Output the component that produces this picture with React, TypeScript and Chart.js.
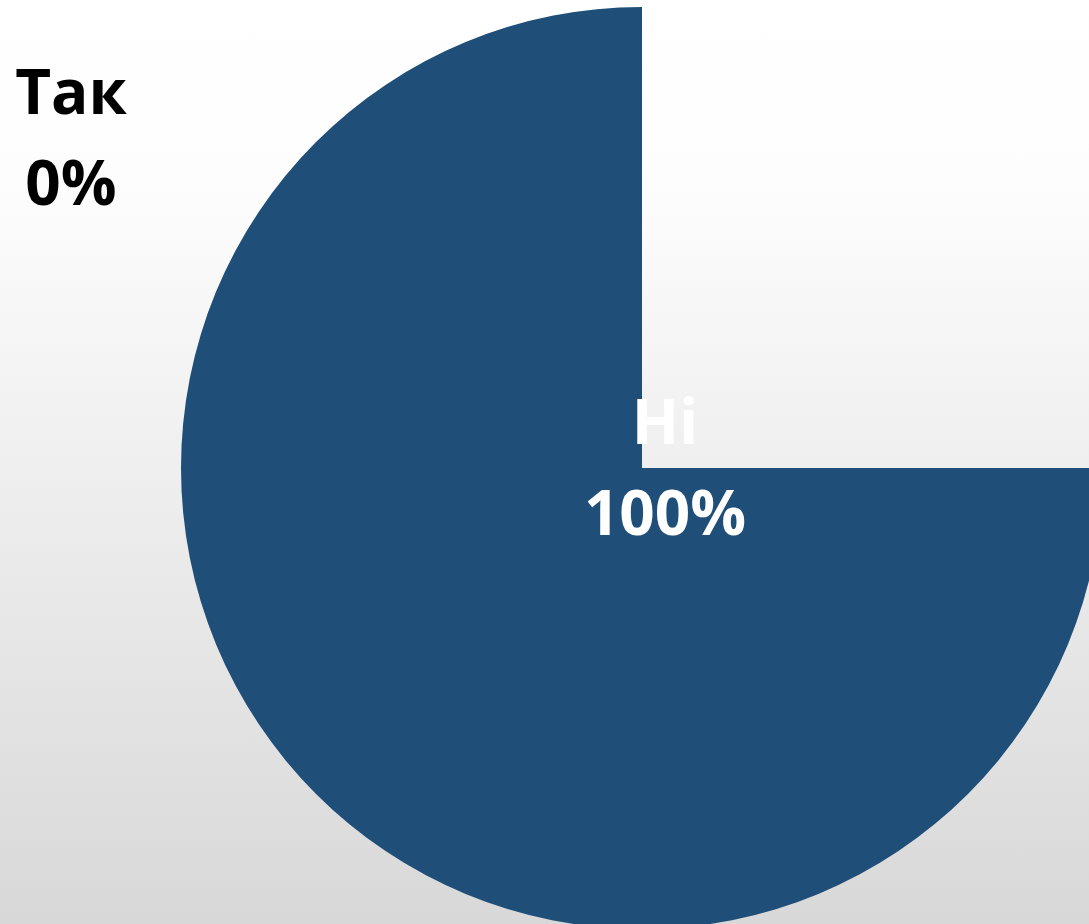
import React, { useEffect, useRef } from "react";
import { Chart, registerables } from "chart.js";

Chart.register(...registerables);

const categories: string[] = ["Так", "Ні"];
const values: number[] = [0, 100];
const sliceColors: string[] = ["#ffffff", "#1f4e79"];

export default function App() {
  const ref = useRef<HTMLCanvasElement | null>(null);

  useEffect(() => {
    document.body.style.margin = "0";
    const ctx = ref.current;
    if (!ctx) return;
    const chart = new Chart(ctx, {
      type: "pie",
      data: {
        labels: categories,
        datasets: [
          {
            data: values,
            backgroundColor: sliceColors,
            borderWidth: 0,
          },
        ],
      },
      options: {
        animation: false,
        responsive: false,
        maintainAspectRatio: false,
        rotation: 90,
        circumference: 270,
        layout: { padding: 0 },
        plugins: {
          legend: { display: false },
          tooltip: { enabled: false },
        },
      },
    });
    return () => chart.destroy();
  }, []);

  const labelFont: React.CSSProperties = {
    position: "absolute",
    fontFamily: "'Open Sans', sans-serif",
    fontWeight: 700,
    fontSize: 62,
    lineHeight: "91px",
    textAlign: "center",
    whiteSpace: "nowrap",
  };

  return (
    <div
      style={{
        position: "fixed",
        left: 0,
        top: 0,
        width: 1089,
        height: 924,
        overflow: "hidden",
        background: "linear-gradient(to bottom, #ffffff 0%, #fdfdfd 20%, #d8d8d8 100%)",
      }}
    >
      <canvas
        ref={ref}
        width={922}
        height={922}
        style={{ position: "absolute", left: 181, top: 7, width: 922, height: 922 }}
      />
      <div style={{ ...labelFont, color: "#000000", left: -29, width: 200, top: 45 }}>
        <div>{categories[0]}</div>
        <div>{values[0]}%</div>
      </div>
      <div style={{ ...labelFont, color: "#ffffff", left: 565, width: 200, top: 375 }}>
        <div>{categories[1]}</div>
        <div>{values[1]}%</div>
      </div>
    </div>
  );
}
